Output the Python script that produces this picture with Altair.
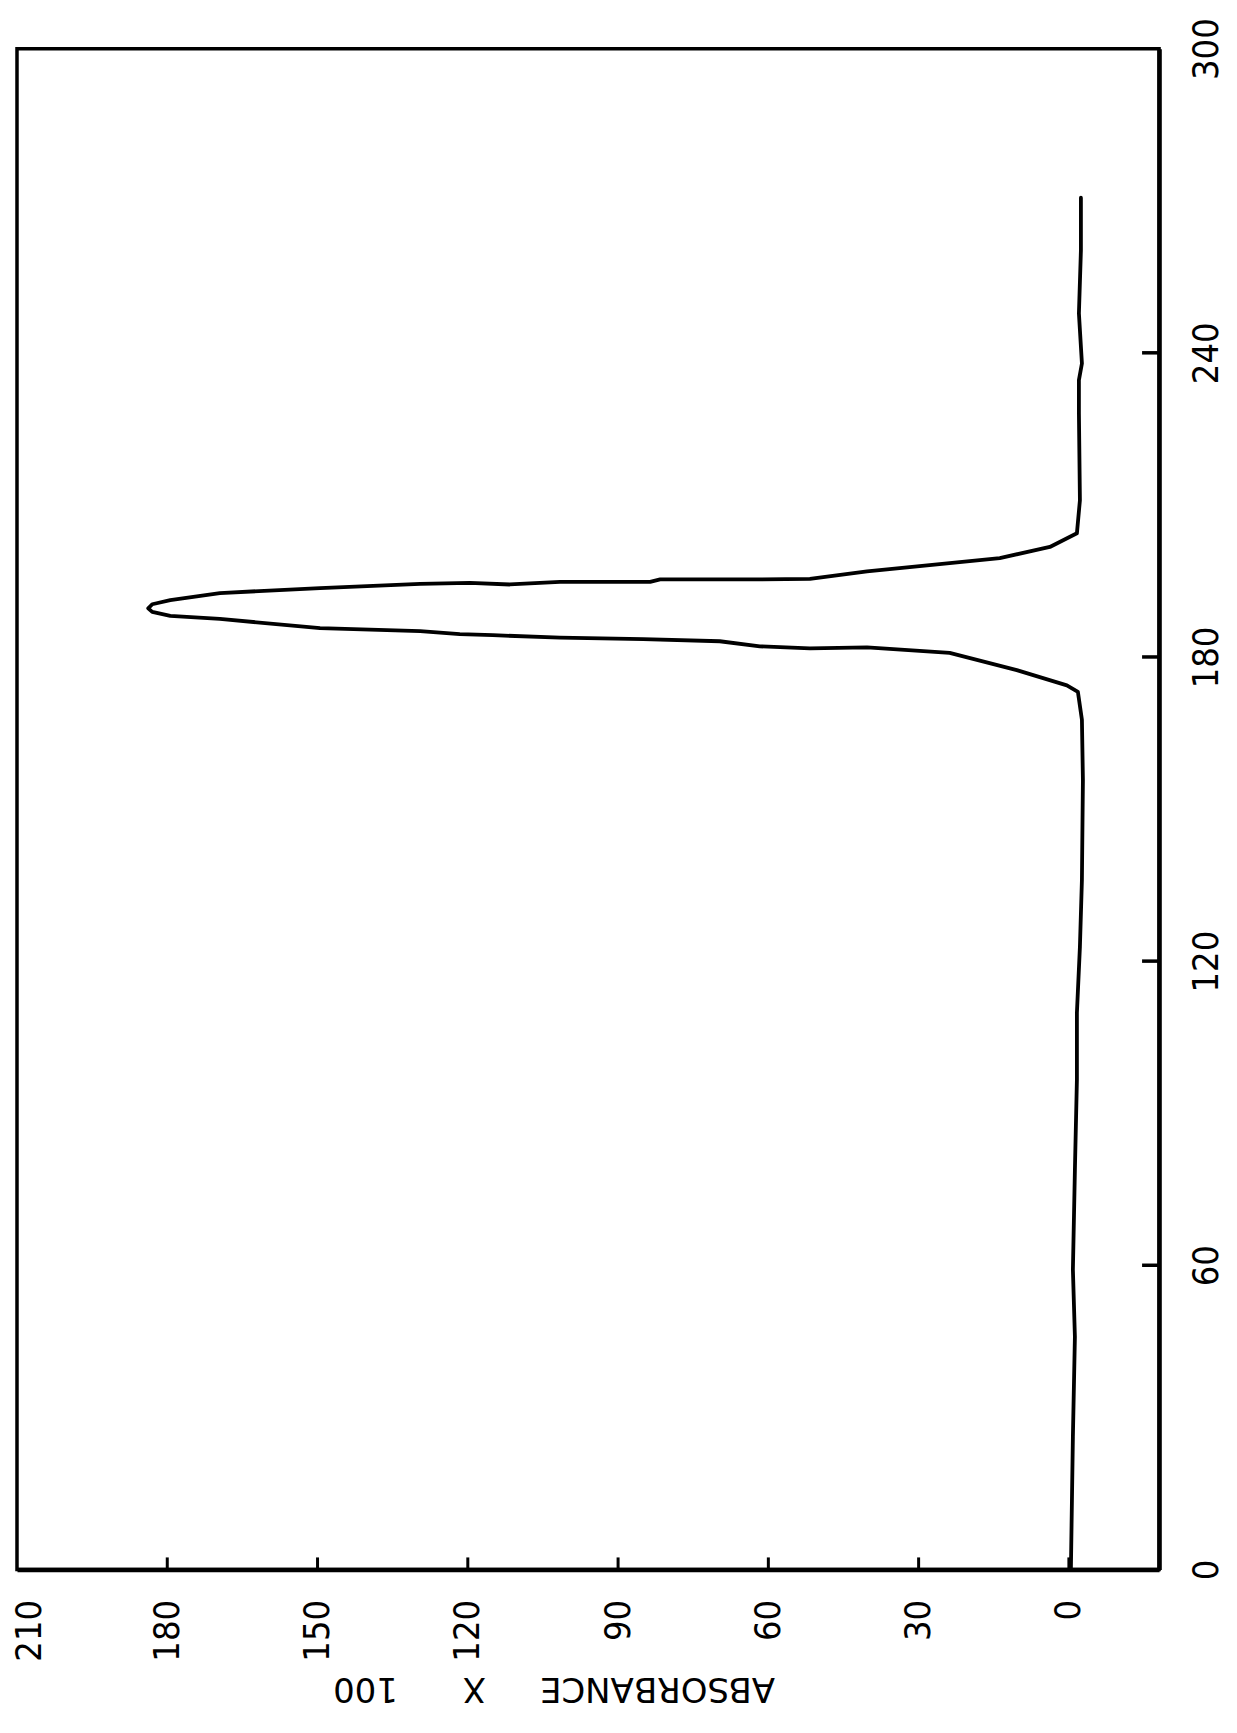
import altair as alt
import pandas as pd

# Elution profile: time axis 0-300, absorbance x 100
time_vals = [0.0, 13.2, 26.2, 45.9, 59.1, 78.8, 96.6, 109.8, 122.8, 136.0, 155.7, 167.6,
             173.1, 174.4, 177.4, 180.8, 181.9, 181.7, 182.1, 183.1, 183.5, 183.8, 184.3,
             184.5, 185.1, 185.7, 187.5, 188.1, 188.9, 189.6, 190.4, 191.2, 192.6, 193.6,
             194.4, 194.6, 194.3, 194.8, 194.8, 195.3, 195.3, 195.4, 196.9, 199.5, 201.7,
             204.4, 210.9, 228.1, 234.6, 237.9, 247.8, 260.2, 270.6]
absorb_vals = [-0.4, -0.6, -0.8, -1.2, -0.8, -1.2, -1.6, -1.6, -2.2, -2.6, -2.8, -2.6,
               -1.8, 0.4, 10.4, 23.8, 40.3, 51.7, 61.7, 69.7, 85.0, 101.6, 115.0,
               121.6, 129.5, 149.5, 169.5, 179.4, 183.0, 183.8, 183.0, 179.4, 169.5, 149.5,
               129.5, 119.6, 111.6, 101.6, 83.6, 81.6, 61.7, 51.7, 40.3, 13.8, 3.8,
               -1.6, -2.2, -2.0, -2.0, -2.6, -2.0, -2.4, -2.4]

absorb_ticks = [0, 30, 60, 90, 120, 150, 180, 210]
time_ticks = [0, 60, 120, 180, 240, 300]
absorb_inner_ticks = [0, 30, 60, 90, 120, 150, 180]
time_inner_ticks = [60, 120, 180, 240]

W, H = 1143, 1522

curve = pd.DataFrame({"t": time_vals, "A": absorb_vals, "i": list(range(len(time_vals)))})
at_df = pd.DataFrame({"A": absorb_inner_ticks})
tt_df = pd.DataFrame({"t": time_inner_ticks})

label_font = "DejaVu Sans Condensed, Liberation Sans Narrow, DejaVu Sans, sans-serif"

x_scale = alt.Scale(domain=[-18, 210], reverse=True, nice=False, zero=False)
y_scale = alt.Scale(domain=[0, 300], nice=False, zero=False)

title_text = "ABSORBANCE" + "\u00a0" * 5 + "X" + "\u00a0" * 6 + "100"

x_axis = alt.Axis(
    orient="bottom", values=absorb_ticks, grid=False,
    ticks=False, tickSize=0, domainWidth=4.5, domainColor="black",
    labelAngle=270, labelAlign="right", labelBaseline="middle",
    labelFont=label_font, labelFontSize=36, labelColor="black",
    labelPadding=30, labelFlush=False, labelOverlap=False,
    labelOffset={"condition": {"test": "datum.value == 210", "value": 13}, "value": 0},
    title=title_text, titleFont="DejaVu Sans", titleFontSize=34,
    titleFontWeight="normal", titleColor="black", titleAngle=180,
    titleAlign="center", titleBaseline="alphabetic", titleX=537, titleY=108)
y_axis = alt.Axis(
    orient="right", values=time_ticks, grid=False,
    ticks=False, tickSize=0, domainWidth=4.5, domainColor="black",
    labelAngle=270, labelAlign="center", labelBaseline="top",
    labelFont=label_font, labelFontSize=36, labelColor="black",
    labelPadding=30, labelFlush=False, labelOverlap=False, title=None)

line = alt.Chart(curve).mark_line(
    color="black", strokeWidth=3.8, strokeJoin="round", strokeCap="round"
).encode(
    x=alt.X("A:Q", scale=x_scale, axis=x_axis),
    y=alt.Y("t:Q", scale=y_scale, axis=y_axis),
    order=alt.Order("i:Q"),
)

xticks = alt.Chart(at_df).mark_rule(color="black", strokeWidth=3).encode(
    x=alt.X("A:Q", scale=x_scale, axis=x_axis),
    y=alt.value(H), y2=alt.value(H - 12),
)

yticks = alt.Chart(tt_df).mark_rule(color="black", strokeWidth=3.5).encode(
    y=alt.Y("t:Q", scale=y_scale, axis=y_axis),
    x=alt.value(W), x2=alt.value(W - 17),
)

chart = alt.layer(line, xticks, yticks).properties(
    width=W, height=H,
    autosize=alt.AutoSizeParams(type="none"),
    padding={"left": 9, "top": 40, "right": 70, "bottom": 146},
    background="white",
).configure_view(stroke="black", strokeWidth=3.5)

chart.save("out.html", embed_options={"renderer": "svg", "actions": False})
